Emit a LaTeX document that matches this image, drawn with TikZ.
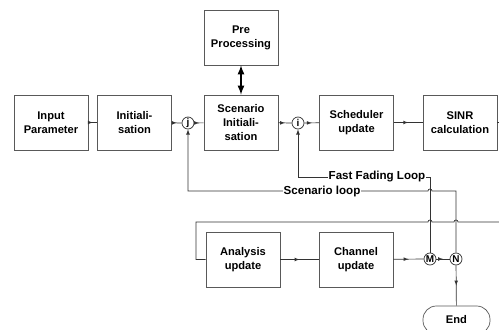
\documentclass[tikz,border=0pt]{standalone}
\usepackage{fontspec}
\setmainfont{Liberation Sans}
\usetikzlibrary{shapes,arrows,decorations.markings}

\tikzset{
  blk/.style={draw=black!65, line width=0.6pt, minimum width=2.22cm, minimum height=1.65cm, align=center, inner sep=1pt, font=\fontsize{9.5}{12}\selectfont\bfseries},
  jn/.style={circle, draw=black!80, line width=0.6pt, minimum size=0.36cm, inner sep=0pt, font=\fontsize{8.5}{9}\selectfont\bfseries},
  ln/.style={draw=black!80, line width=0.6pt},
  lbl/.style={fill=white, inner sep=0.5pt, font=\fontsize{9.9}{11}\selectfont\bfseries},
  midarrow/.style={postaction={decorate}, decoration={markings, mark=at position 0.5 with {\arrow[scale=0.9]{latex}}}}
}

\begin{document}
\begin{tikzpicture}[>=latex, x=0.03cm, y=-0.03cm]
\useasboundingbox (0,0) rectangle (499,329);
\clip (0,0) rectangle (499,329);
% top row
\node[blk] (inp) at (51,122.5) {Input\\Parameter};
\node[blk] (ini) at (134.5,122.5) {Initiali-\\sation};
\node[jn] (j) at (188,123) {j};
\node[blk] (scn) at (241,122.5) {Scenario\\Initiali-\\sation};
\node[blk] (pre) at (241,37.5) {Pre\\Processing};
\node[jn] (i) at (298,123) {i};
\node[blk] (sch) at (356.5,122.5) {Scheduler\\update};
\node[blk] (sinr) at (460,122.5) {SINR\\calculation};
% bottom row
\node[blk] (ana) at (243,259.5) {Analysis\\update};
\node[blk] (chn) at (356,259.5) {Channel\\update};
\node[jn] (M) at (430,259) {M};
\node[jn] (N) at (456,259) {N};
\node[draw=black!65, line width=0.6pt, rounded corners=0.4cm, minimum width=2.01cm, minimum height=0.84cm, font=\fontsize{9.5}{11}\selectfont\bfseries] (end) at (456.5,320) {End};
\coordinate (out) at (499,122.5);
\coordinate (wrap) at (499,222);
\coordinate (back) at (196,222);
\coordinate (ffl) at (430,177);
\coordinate (scl) at (456,191);

\draw[ln, midarrow] (inp) -- (ini);
\draw[ln, midarrow] (ini) -- (j);
\draw[ln, midarrow] (j) -- (scn);
\draw[ln, midarrow] (scn) -- (i);
\draw[ln, midarrow] (i) -- (sch);
\draw[ln, midarrow] (sch) -- (sinr);
\draw[ln] (sinr) -- (out);
\draw[line width=1.6pt, <->] (pre) -- (scn);

\draw[ln, midarrow] (ana) -- (chn);
\draw[ln, midarrow] (chn) -- (M);
\draw[ln, midarrow] (M) -- (N);
\draw[ln, midarrow] (N) -- (end);

% loops
\draw[ln, ->] (M) -- (ffl) -- (i |- ffl) -- (i);
\draw[ln, ->] (N) -- (scl) -- (432,191) arc[start angle=0, end angle=180, radius=0.06cm] -- (j |- scl) -- (j);
\draw[ln] (wrap) -- (458,222) arc[start angle=0, end angle=180, radius=0.06cm] -- (432,222) arc[start angle=0, end angle=180, radius=0.06cm] -- (back) |- (ana);
\node[lbl] (fflbl) at (377,177) {Fast Fading Loop};
\node[lbl] (scllbl) at (322,191) {Scenario loop};
\end{tikzpicture}
\end{document}
